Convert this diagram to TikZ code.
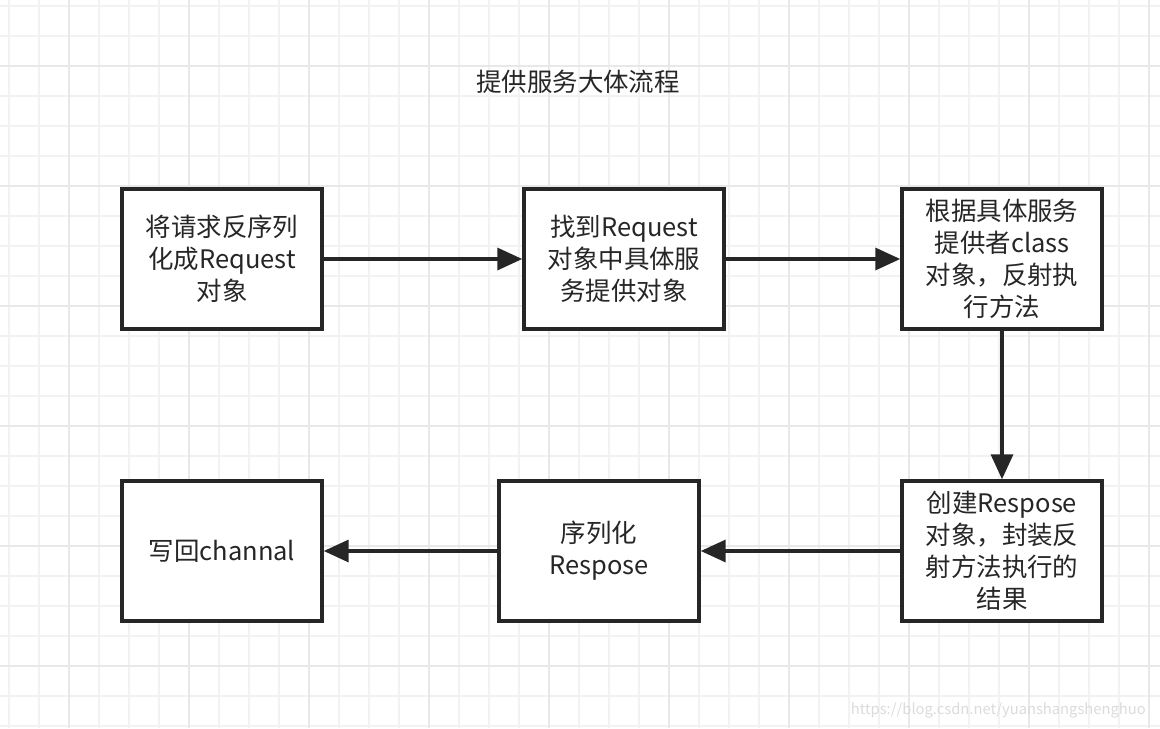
\documentclass[tikz,border=0pt]{standalone}
\usepackage{fontspec}
\setmainfont{Noto Sans CJK SC}
\usepackage{tikz}
\usetikzlibrary{arrows.meta}

\begin{document}
\begin{tikzpicture}[x=0.02cm,y=-0.02cm,
        box/.style={draw=black!85,line width=2pt,minimum width=4cm,minimum height=2.8cm,
            align=center,font=\fontsize{14.5}{18.2}\selectfont,text=black!85},
        flow/.style={draw=black!85,line width=2pt,-{Triangle[length=0.5cm,width=0.44cm]}}]
            \useasboundingbox (0,0) rectangle (1160,728);
            % grid
            \foreach \x in {9,39,...,1160} \draw[black!5,line width=0.9pt] (\x,0) -- (\x,728);
            \foreach \y in {6,36,...,728} \draw[black!5,line width=0.9pt] (0,\y) -- (1160,\y);
            \foreach \x in {69,189,...,1160} \draw[black!9,line width=0.9pt] (\x,0) -- (\x,728);
            \foreach \y in {66,186,...,728} \draw[black!9,line width=0.9pt] (0,\y) -- (1160,\y);
            
            \node[font=\fontsize{14.5}{18}\selectfont,text=black!85] (title) at (578,82) {提供服务大体流程};
            
            \node[box,fill=white] (deser) at (222,259) {将请求反序列\\化成Request\\对象};
            \node[box,fill=white] (find) at (624,259) {找到Request\\对象中具体服\\务提供对象};
            \node[box,fill=white] (invoke) at (1002,259) {根据具体服务\\提供者class\\对象，反射执\\行方法};
            \node[box,fill=white] (result) at (1002,551) {创建Respose\\对象，封装反\\射方法执行的\\结果};
            \node[box,fill=white] (ser) at (599,551) {序列化\\Respose};
            \node[box,fill=white] (write) at (222,551) {写回channal};
            
            \draw[flow] (deser) -- (find);
            \draw[flow] (find) -- (invoke);
            \draw[flow] (invoke) -- (result);
            \draw[flow] (result) -- (ser);
            \draw[flow] (ser) -- (write);
            %watermark
            \node[anchor=east,font=\fontsize{8.4}{10}\selectfont,text=black!14] (mark) at (1152,710)
                {https://blog.csdn.net/yuanshangshenghuo};
        \end{tikzpicture}
\end{document}
